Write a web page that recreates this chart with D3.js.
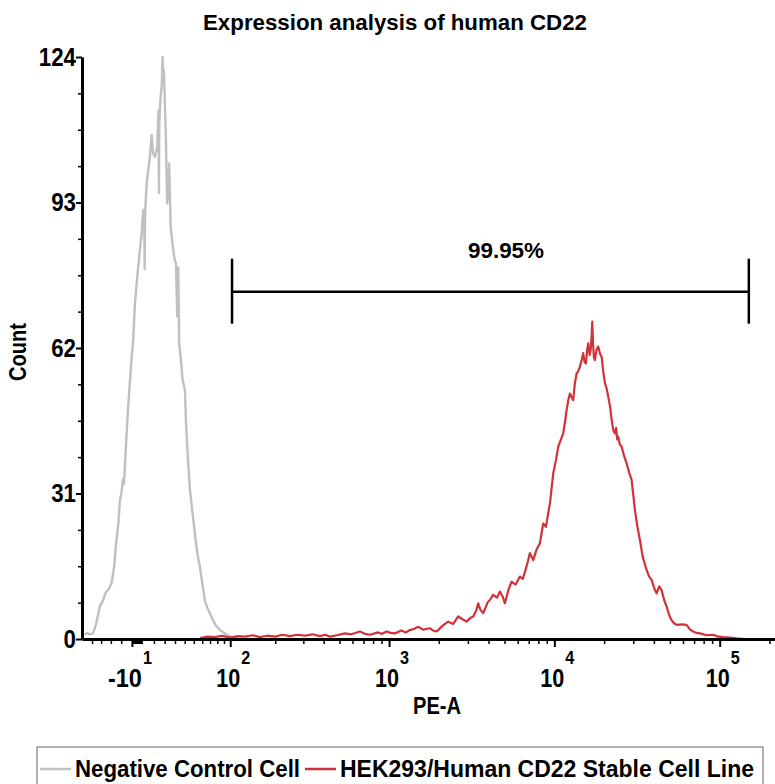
<!DOCTYPE html>
<html>
<head>
<meta charset="utf-8">
<script src="https://cdn.jsdelivr.net/npm/d3@7"></script>
<style>
  body { margin: 0; background: #fff; }
  svg text { font-family: "Liberation Sans", Arial, sans-serif; font-weight: bold; fill: #000; }
</style>
</head>
<body>
<svg id="chart" width="775" height="784"></svg>
<script>
// ---------------- data ----------------
const chartTitle = "Expression analysis of human CD22";
const xLabel = "PE-A";
const yLabel = "Count";
const seriesNames = ["Negative Control Cell", "HEK293/Human CD22 Stable Cell Line"];
const seriesColors = ["#c0c0c0", "#cf3339"];

// x is displayed on an arcsinh (logicle-like) scale: t = asinh(PE-A / cofactor)
const cofactor = 65;
const xDomainPE = [-62, 216000];
const yDomain = [0, 124];
const yTicks = [0, 31, 62, 93, 124];
const xMajorTicks = [-10, 100, 1000, 10000, 100000];
const xMajorBase = ["-10", "10", "10", "10", "10"];
const xMajorExp = ["1", "2", "3", "4", "5"];
const xLinearMinor = [-50, -40, -30, -20, 10, 20, 30, 40, 50, 60, 70, 80, 90];

// Negative control histogram (x in asinh(PE-A/65) units, y = count)
const grayX = [-0.808,-0.780,-0.745,-0.696,-0.655,-0.620,-0.599,-0.560,-0.515,-0.480,-0.436,-0.400,-0.376,-0.340,-0.320,-0.300,-0.279,-0.265,-0.251,-0.230,-0.205,-0.180,-0.157,-0.135,-0.111,-0.080,-0.042,-0.020,0.004,0.018,0.024,0.030,0.052,0.075,0.097,0.121,0.140,0.167,0.199,0.213,0.219,0.223,0.228,0.246,0.262,0.274,0.285,0.292,0.316,0.338,0.352,0.366,0.386,0.422,0.440,0.460,0.478,0.488,0.492,0.505,0.539,0.550,0.585,0.600,0.625,0.655,0.690,0.724,0.760,0.794,0.830,0.863,0.900,0.957,1.010,1.072,1.166,1.281,1.400];
const grayY = [0.9,1.3,1.0,1.2,3.0,5.5,7.0,8.0,10.0,10.5,11.9,15.5,20.0,25.0,29.6,31.0,34.0,33.0,36.6,43.0,49.5,55.0,60.1,63.7,71.6,77.0,82.9,86.0,91.4,90.0,78.8,90.5,97.1,100.0,102.7,107.4,103.5,102.7,104.9,111.0,112.7,95.0,110.0,115.5,118.0,124.0,118.5,121.2,109.1,92.8,95.0,101.3,87.9,82.9,81.0,80.1,68.7,74.0,79.1,63.0,58.0,55.5,53.0,46.0,39.0,31.7,27.0,22.4,18.0,15.3,11.5,8.2,6.5,4.7,3.0,1.9,0.9,0.2,0.0];

// HEK293/Human CD22 histogram
const redX = [0.794,0.900,1.003,1.100,1.212,1.320,1.420,1.530,1.629,1.730,1.838,1.940,2.047,2.150,2.256,2.360,2.465,2.540,2.604,2.700,2.813,2.900,3.022,3.090,3.161,3.273,3.330,3.394,3.450,3.509,3.600,3.660,3.718,3.780,3.834,3.900,3.997,4.040,4.090,4.170,4.251,4.320,4.391,4.450,4.508,4.560,4.600,4.640,4.669,4.700,4.739,4.800,4.840,4.878,4.930,4.971,5.010,5.041,5.090,5.134,5.190,5.250,5.290,5.320,5.360,5.389,5.435,5.480,5.528,5.574,5.612,5.640,5.668,5.690,5.714,5.750,5.783,5.820,5.853,5.880,5.900,5.925,5.946,5.970,5.992,6.015,6.039,6.060,6.085,6.110,6.131,6.150,6.169,6.185,6.201,6.220,6.235,6.250,6.257,6.268,6.280,6.294,6.315,6.340,6.365,6.388,6.410,6.434,6.455,6.480,6.505,6.527,6.550,6.573,6.590,6.605,6.619,6.640,6.666,6.700,6.736,6.770,6.805,6.830,6.851,6.885,6.921,6.960,7.014,7.050,7.084,7.120,7.154,7.190,7.223,7.260,7.293,7.330,7.362,7.400,7.432,7.500,7.571,7.620,7.663,7.710,7.757,7.850,7.942,8.010,8.081,8.180,8.268,8.383];
const redY = [0.2,0.5,0.4,0.7,0.3,0.6,0.5,0.8,0.4,0.7,0.5,0.9,0.6,0.9,0.7,1.0,0.6,0.9,0.5,0.8,1.2,1.0,1.6,1.1,0.9,1.4,1.1,1.6,1.3,1.2,1.8,1.4,1.9,2.2,2.6,2.0,2.3,1.8,1.6,2.8,3.7,3.2,4.8,4.2,3.7,4.5,4.8,6.0,7.6,6.2,5.5,7.8,8.5,9.4,8.8,10.1,9.0,7.6,10.5,12.2,11.6,13.3,12.8,14.3,16.5,18.3,16.8,19.0,20.4,24.6,23.9,26.5,28.9,32.0,35.3,38.0,41.0,42.5,43.8,46.5,48.8,51.0,52.3,51.5,50.9,54.5,56.6,57.0,58.0,59.5,60.9,59.0,58.7,61.5,63.0,60.5,61.6,65.0,67.6,63.0,60.0,59.4,61.5,62.3,60.8,60.1,57.0,54.5,53.5,51.6,49.5,46.7,44.5,43.8,45.0,42.5,43.1,41.5,41.0,39.0,37.4,35.5,33.9,30.5,27.5,24.0,21.1,17.5,14.7,13.3,12.6,10.8,9.7,11.2,10.4,8.2,6.9,5.0,4.0,3.3,3.0,3.1,3.0,2.0,1.6,1.3,1.2,0.8,0.9,0.5,0.4,0.3,0.15,0.0];

// Gate (PE-A range) and its label
const gateRangePE = [103, 150000];
const gateCount = 74;
const gateLabel = "99.95%";
const gateLabelPE = 5100;

// ---------------- drawing ----------------
const svg = d3.select("#chart");
const tf = v => Math.asinh(v / cofactor);

const plot = { left: 82, right: 775, top: 57, bottom: 639 };
const x = d3.scaleLinear().domain(xDomainPE.map(tf)).range([plot.left, plot.right]);
const y = d3.scaleLinear().domain(yDomain).range([plot.bottom, plot.top]);

// narrow bold text helper (condensed to a target width)
function addText(parent, px, py, str, size, width, anchor) {
  return parent.append("text").attr("x", px).attr("y", py)
    .attr("text-anchor", anchor || "start")
    .attr("textLength", width).attr("lengthAdjust", "spacingAndGlyphs")
    .style("font-size", size + "px").text(str);
}

// title
addText(svg, 395, 30, chartTitle, 22, 384, "middle");

// histogram lines
const series = [
  { xs: grayX, ys: grayY, color: seriesColors[0], w: 2.4 },
  { xs: redX, ys: redY, color: seriesColors[1], w: 2.2 }
];
series.forEach(s => {
  const line = d3.line().x((d, i) => x(s.xs[i])).y(d => y(d));
  svg.append("path").datum(s.ys).attr("d", line)
    .attr("fill", "none").attr("stroke", s.color).attr("stroke-width", s.w)
    .attr("stroke-linejoin", "round");
});

// minor x ticks
const xMinor = xLinearMinor.slice();
[100, 1000, 10000].forEach(dec => { for (let m = 2; m <= 9; m++) xMinor.push(m * dec); });
xMinor.push(200000);

const gxMinor = svg.append("g").attr("transform", `translate(0,${plot.bottom})`)
  .call(d3.axisBottom(x).tickValues(xMinor.map(tf)).tickSize(5).tickSizeOuter(0).tickFormat(""));
gxMinor.select(".domain").attr("stroke-width", 3);
gxMinor.selectAll(".tick line").attr("stroke-width", 1.5);

const gxMajor = svg.append("g").attr("transform", `translate(0,${plot.bottom})`)
  .call(d3.axisBottom(x).tickValues(xMajorTicks.map(tf)).tickSize(8).tickSizeOuter(0).tickFormat(""));
gxMajor.select(".domain").remove();
gxMajor.selectAll(".tick line").attr("stroke-width", 2);

// dense marker near zero
svg.append("rect").attr("x", x(tf(-10))).attr("y", plot.bottom + 1)
  .attr("width", x(tf(0)) - x(tf(-10))).attr("height", 4).attr("fill", "#000");

// x tick labels (10 with superscript exponent)
xMajorTicks.forEach((v, i) => {
  const px = x(tf(v));
  addText(svg, px + 10, 687, xMajorBase[i], 26, 12 * xMajorBase[i].length - (xMajorBase[i][0] === "-" ? 2 : 0), "end");
  addText(svg, px + 11, 664, xMajorExp[i], 18, 9, "start");
});

// y axis
const yMinor = d3.range(yDomain[0], yDomain[1] + 0.01, 7.75).filter(v => !yTicks.includes(v));
const gyMinor = svg.append("g").attr("transform", `translate(${plot.left},0)`)
  .call(d3.axisLeft(y).tickValues(yMinor).tickSize(4).tickSizeOuter(0).tickFormat(""));
gyMinor.select(".domain").attr("stroke-width", 3);
gyMinor.selectAll(".tick line").attr("stroke-width", 1.5);

const gyMajor = svg.append("g").attr("transform", `translate(${plot.left},0)`)
  .call(d3.axisLeft(y).tickValues(yTicks).tickSize(6).tickPadding(0).tickSizeOuter(0));
gyMajor.select(".domain").remove();
gyMajor.selectAll(".tick line").attr("stroke-width", 2);
gyMajor.selectAll(".tick text").attr("font-family", null).attr("font-size", null)
  .style("font-size", "26px").attr("fill", "#000")
  .attr("textLength", d => 12.4 * String(d).length).attr("lengthAdjust", "spacingAndGlyphs");

// axis titles
addText(svg, 437, 714, xLabel, 24, 48, "middle");
addText(svg.append("g").attr("transform", "translate(26,352) rotate(-90)"), 0, 0, yLabel, 24, 58, "middle");

// gate
const gx0 = x(tf(gateRangePE[0])), gx1 = x(tf(gateRangePE[1])), gy = y(gateCount);
const gate = svg.append("g").attr("stroke", "#000").attr("stroke-width", 2.5);
gate.append("line").attr("x1", gx0).attr("x2", gx1).attr("y1", gy).attr("y2", gy);
gate.append("line").attr("x1", gx0).attr("x2", gx0).attr("y1", gy - 33).attr("y2", gy + 32);
gate.append("line").attr("x1", gx1).attr("x2", gx1).attr("y1", gy - 33).attr("y2", gy + 32);
addText(svg, x(tf(gateLabelPE)), 258, gateLabel, 22, 76, "middle");

// legend
const leg = svg.append("g");
leg.append("rect").attr("x", 37).attr("y", 747).attr("width", 726).attr("height", 50)
  .attr("fill", "none").attr("stroke", "#808080").attr("stroke-width", 1.2);
const legendWidths = [225, 414];
let lx = 40;
seriesNames.forEach((name, i) => {
  leg.append("line").attr("x1", lx).attr("x2", lx + 31).attr("y1", 769).attr("y2", 769)
    .attr("stroke", seriesColors[i]).attr("stroke-width", 2.5);
  addText(leg, lx + 35, 777, name, 24, legendWidths[i], "start");
  lx = lx + 35 + legendWidths[i] + 5;
});
</script>
</body>
</html>
